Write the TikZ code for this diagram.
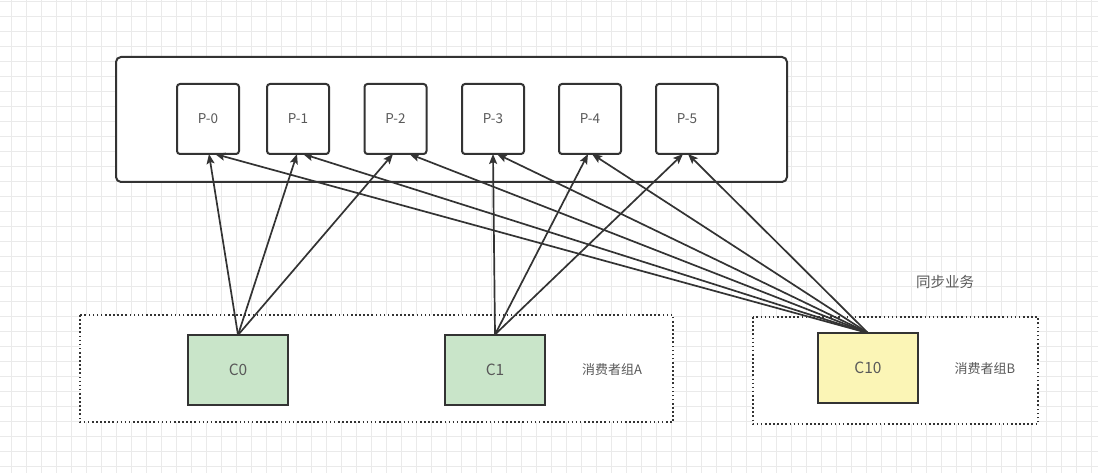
\documentclass[tikz,border=0pt]{standalone}
\usepackage{fontspec}
\setmainfont{Noto Sans CJK SC}
\usetikzlibrary{arrows.meta}
\definecolor{gridc}{HTML}{EAEAEA}
\definecolor{linec}{HTML}{333333}
\definecolor{txtc}{HTML}{595959}
\definecolor{greenf}{HTML}{C9E5C9}
\definecolor{yellowf}{HTML}{FBF5B6}
\tikzset{
  pbox/.style={draw=linec, line width=2pt, rounded corners=3pt, fill=white, minimum width=62pt, minimum height=70pt, inner sep=0pt, outer sep=0pt, text=txtc, font=\fontsize{13.5}{15}\selectfont},
  cbox/.style={draw=linec, line width=2pt, minimum width=100pt, minimum height=70pt, inner sep=0pt, outer sep=0pt, text=txtc, font=\fontsize{15.5}{17}\selectfont},
  grp/.style={draw=linec, line width=1.8pt, dash pattern=on 1.6pt off 2.5pt},
  lbl/.style={text=txtc, inner sep=0pt, font=\fontsize{13}{15}\selectfont},
  arr/.style={draw=linec, line width=1.7pt, -{Stealth[length=10pt,width=8pt,inset=2pt]}}
}
\begin{document}
\begin{tikzpicture}[x=1pt,y=-1pt]
\useasboundingbox (0,0) rectangle (1098,473);
\fill[white] (0,0) rectangle (1098,473);
% grid
\foreach \gx in {11,26,...,1098} \draw[gridc, line width=0.9pt] (\gx,0) -- (\gx,473);
\foreach \gy in {1,16,...,473} \draw[gridc, line width=0.9pt] (0,\gy) -- (1098,\gy);
% outer box
\draw[linec, line width=2pt, rounded corners=5pt, fill=white] (116,57) rectangle (787,182);
% groups
\draw[grp, fill=white] (80,315) rectangle (673,422);
\draw[grp, fill=white] (753,317) rectangle (1038,424);
% partitions
\node[pbox] (P0) at (208,119) {P-0};
\node[pbox] (P1) at (298,119) {P-1};
\node[pbox] (P2) at (395.5,119) {P-2};
\node[pbox] (P3) at (493,119) {P-3};
\node[pbox] (P4) at (590,119) {P-4};
\node[pbox] (P5) at (687,119) {P-5};
% consumers
\node[cbox, fill=greenf] (C0) at (238,370) {C0};
\node[cbox, fill=greenf] (C1) at (495,369.5) {C1};
\node[cbox, fill=yellowf] (C10) at (868,368) {C10};
% labels
\node[lbl] (LA) at (612,370) {消费者组A};
\node[lbl] (LB) at (985,369) {消费者组B};
\node[lbl, font=\fontsize{14.5}{16}\selectfont] (LS) at (945,282) {同步业务};
% arrows from C0
\draw[arr] (C0.north) -- ([xshift=1pt]P0.south);
\draw[arr] (C0.north) -- ([xshift=-1pt]P1.south);
\draw[arr] (C0.north) -- ([xshift=-2.5pt]P2.south);
% arrows from C1
\draw[arr] (C1.north) -- (P3.south);
\draw[arr] (C1.north) -- ([xshift=-2pt]P4.south);
\draw[arr] (C1.north) -- ([xshift=-4pt]P5.south);
% arrows from C10
\draw[arr] (C10.north) -- ([xshift=7pt]P0.south);
\draw[arr] (C10.north) -- ([xshift=5pt]P1.south);
\draw[arr] (C10.north) -- ([xshift=14pt]P2.south);
\draw[arr] (C10.north) -- ([xshift=4pt]P3.south);
\draw[arr] (C10.north) -- ([xshift=2pt]P4.south);
\draw[arr] (C10.north) -- ([xshift=1pt]P5.south);
\end{tikzpicture}
\end{document}
